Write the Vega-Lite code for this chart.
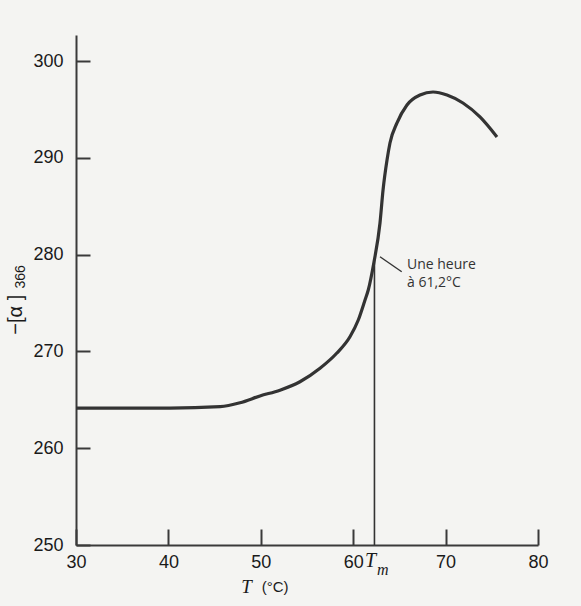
{
  "$schema": "https://vega.github.io/schema/vega-lite/v6.json",
  "width": 462,
  "height": 510,
  "autosize": {"type": "none"},
  "padding": {"left": 76, "top": 35, "right": 43, "bottom": 61},
  "background": "#f4f4f2",
  "config": {
    "view": {"stroke": null},
    "axis": {
      "grid": false,
      "domainColor": "#3a3a3a",
      "domainWidth": 2,
      "tickColor": "#3a3a3a",
      "tickWidth": 2,
      "labelFont": "Liberation Sans",
      "labelFontSize": 18,
      "labelColor": "#1a1a1a",
      "labelFlush": false
    }
  },
  "layer": [
    {
      "data": {
        "values": [
          {"T": 30, "rot": 264.15},
          {"T": 40.17, "rot": 264.15},
          {"T": 45.6, "rot": 264.3},
          {"T": 47.75, "rot": 264.7},
          {"T": 49.91, "rot": 265.4},
          {"T": 52.08, "rot": 266.0},
          {"T": 54.24, "rot": 266.87},
          {"T": 56.41, "rot": 268.26},
          {"T": 58.21, "rot": 269.81},
          {"T": 59.65, "rot": 271.52},
          {"T": 60.55, "rot": 273.25},
          {"T": 61.28, "rot": 275.32},
          {"T": 61.63, "rot": 276.35},
          {"T": 62.25, "rot": 279.24},
          {"T": 62.9, "rot": 283.27},
          {"T": 63.23, "rot": 286.68},
          {"T": 63.66, "rot": 289.78},
          {"T": 63.98, "rot": 291.54},
          {"T": 64.74, "rot": 293.61},
          {"T": 65.82, "rot": 295.47},
          {"T": 67.23, "rot": 296.5},
          {"T": 68.64, "rot": 296.81},
          {"T": 70.15, "rot": 296.5},
          {"T": 71.88, "rot": 295.67},
          {"T": 73.72, "rot": 294.23},
          {"T": 75.56, "rot": 292.16}
        ]
      },
      "mark": {"type": "line", "interpolate": "monotone", "color": "#333333", "strokeWidth": 3.2},
      "encoding": {
        "x": {
          "field": "T",
          "type": "quantitative",
          "scale": {"domain": [30, 80], "nice": false, "zero": false},
          "axis": {
            "values": [30, 40, 50, 60, 70, 80],
            "tickSize": -16,
            "labelPadding": 24,
            "title": null
          }
        },
        "y": {
          "field": "rot",
          "type": "quantitative",
          "scale": {"domain": [250, 302.7], "nice": false, "zero": false},
          "axis": {
            "values": [250, 260, 270, 280, 290, 300],
            "tickSize": -14,
            "labelPadding": 27,
            "title": null
          }
        }
      }
    },
    {
      "data": {"values": [{}]},
      "mark": {"type": "rule", "color": "#333333", "strokeWidth": 1.6},
      "encoding": {
        "x": {"datum": 62.3, "type": "quantitative"},
        "y": {"datum": 250, "type": "quantitative"},
        "y2": {"datum": 279.5}
      }
    },
    {
      "data": {"values": [{}]},
      "mark": {"type": "rule", "color": "#333333", "strokeWidth": 1.4},
      "encoding": {
        "x": {"datum": 62.9, "type": "quantitative"},
        "x2": {"datum": 65.25},
        "y": {"datum": 279.79, "type": "quantitative"},
        "y2": {"datum": 278.24}
      }
    },
    {
      "data": {"values": [{}]},
      "mark": {"type": "text", "text": "Une heure", "font": "Open Sans", "fontSize": 14, "color": "#333333", "align": "left", "baseline": "middle"},
      "encoding": {
        "x": {"datum": 65.82, "type": "quantitative"},
        "y": {"datum": 278.93, "type": "quantitative"}
      }
    },
    {
      "data": {"values": [{}]},
      "mark": {"type": "text", "text": "à 61,2°C", "font": "Open Sans", "fontSize": 14, "color": "#333333", "align": "left", "baseline": "middle"},
      "encoding": {
        "x": {"datum": 65.82, "type": "quantitative"},
        "y": {"datum": 277.07, "type": "quantitative"}
      }
    },
    {
      "data": {"values": [{}]},
      "mark": {"type": "text", "text": "T", "font": "Liberation Serif", "fontStyle": "italic", "fontSize": 19, "color": "#1a1a1a", "align": "center", "baseline": "middle"},
      "encoding": {
        "x": {"datum": 48.45, "type": "quantitative"},
        "y": {"datum": 245.71, "type": "quantitative"}
      }
    },
    {
      "data": {"values": [{}]},
      "mark": {"type": "text", "text": "(°C)", "font": "Liberation Sans", "fontSize": 15, "color": "#1a1a1a", "align": "left", "baseline": "middle"},
      "encoding": {
        "x": {"datum": 50.1, "type": "quantitative"},
        "y": {"datum": 245.71, "type": "quantitative"}
      }
    },
    {
      "data": {"values": [{}]},
      "mark": {"type": "text", "text": "T", "font": "Liberation Serif", "fontStyle": "italic", "fontSize": 20, "color": "#1a1a1a", "align": "center", "baseline": "middle"},
      "encoding": {
        "x": {"datum": 61.87, "type": "quantitative"},
        "y": {"datum": 248.34, "type": "quantitative"}
      }
    },
    {
      "data": {"values": [{}]},
      "mark": {"type": "text", "text": "m", "font": "Liberation Serif", "fontStyle": "italic", "fontSize": 16, "color": "#1a1a1a", "align": "center", "baseline": "middle"},
      "encoding": {
        "x": {"datum": 63.2, "type": "quantitative"},
        "y": {"datum": 247.41, "type": "quantitative"}
      }
    },
    {
      "data": {"values": [{}]},
      "mark": {"type": "text", "text": "−[α ]", "font": "Liberation Sans", "fontSize": 20, "angle": 270, "color": "#1a1a1a", "align": "center", "baseline": "middle"},
      "encoding": {
        "x": {"datum": 23.56, "type": "quantitative"},
        "y": {"datum": 273.8, "type": "quantitative"}
      }
    },
    {
      "data": {"values": [{}]},
      "mark": {"type": "text", "text": "366", "font": "Liberation Sans", "fontSize": 14, "angle": 270, "color": "#1a1a1a", "align": "center", "baseline": "middle"},
      "encoding": {
        "x": {"datum": 24.05, "type": "quantitative"},
        "y": {"datum": 277.7, "type": "quantitative"}
      }
    }
  ]
}
